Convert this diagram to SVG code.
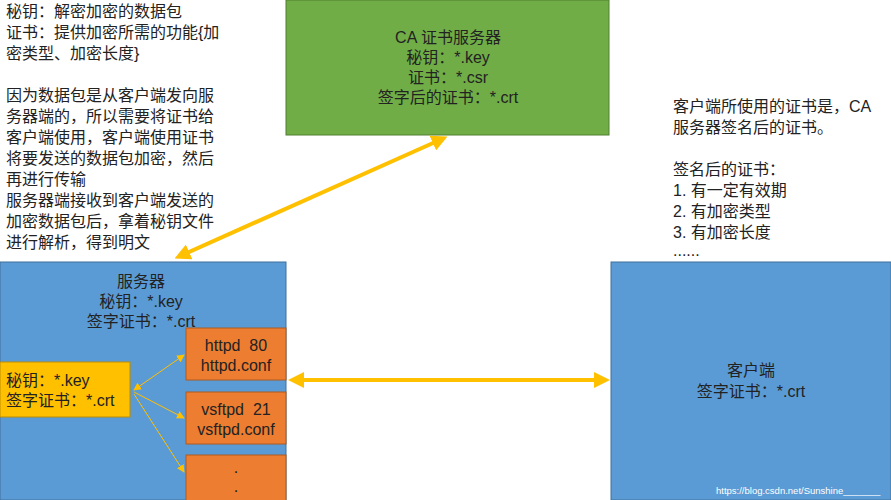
<svg xmlns="http://www.w3.org/2000/svg" width="891" height="500" viewBox="0 0 891 500">
<style>
text{font-family:"Liberation Sans","Noto Sans CJK SC",sans-serif;font-size:16px;fill:#222}
.c{text-anchor:middle}
</style>
<defs>
<marker id="big" markerWidth="4" markerHeight="4" refX="2.5" refY="2" orient="auto-start-reverse" markerUnits="strokeWidth"><path d="M0,0 L4,2 L0,4 z" fill="#FFC000"/></marker>
<marker id="sm" markerWidth="8" markerHeight="8" refX="7" refY="4" orient="auto-start-reverse" markerUnits="userSpaceOnUse"><path d="M0,0 L8,4 L0,8 z" fill="#FFC000"/></marker>
</defs>
<rect width="891" height="500" fill="#fff"/>
<g id="notes-left">
<text x="6" y="17">秘钥：解密加密的数据包</text>
<text x="6" y="38">证书：提供加密所需的功能{加</text>
<text x="6" y="59">密类型、加密长度}</text>
<text x="6" y="101">因为数据包是从客户端发向服</text>
<text x="6" y="122">务器端的，所以需要将证书给</text>
<text x="6" y="143">客户端使用，客户端使用证书</text>
<text x="6" y="164">将要发送的数据包加密，然后</text>
<text x="6" y="185">再进行传输</text>
<text x="6" y="206">服务器端接收到客户端发送的</text>
<text x="6" y="227">加密数据包后，拿着秘钥文件</text>
<text x="6" y="248">进行解析，得到明文</text>
</g>
<g id="ca"><rect x="286" y="0" width="323" height="135" fill="#70AD47" stroke="#507E32"/>
<text class="c" x="448" y="43">CA 证书服务器</text>
<text class="c" x="448" y="63">秘钥：*.key</text>
<text class="c" x="448" y="83">证书：*.csr</text>
<text class="c" x="448" y="103">签字后的证书：*.crt</text></g>
<g id="notes-right">
<text x="673" y="112">客户端所使用的证书是，CA</text>
<text x="673" y="133">服务器签名后的证书。</text>
<text x="673" y="175">签名后的证书：</text>
<text x="673" y="196">1. 有一定有效期</text>
<text x="673" y="217">2. 有加密类型</text>
<text x="673" y="238">3. 有加密长度</text>
<text x="673" y="256">......</text>
</g>
<g id="server"><rect x="0" y="262" width="286" height="238" fill="#5B9BD5" stroke="#41719C"/>
<text class="c" x="141" y="287">服务器</text>
<text class="c" x="141" y="307">秘钥：*.key</text>
<text class="c" x="141" y="327">签字证书：*.crt</text></g>
<g id="client"><rect x="611" y="262" width="280" height="238" fill="#5B9BD5" stroke="#41719C"/>
<text class="c" x="751" y="376">客户端</text>
<text class="c" x="751" y="397">签字证书：*.crt</text></g>
<g id="keybox"><rect x="0" y="362" width="130" height="55" fill="#FFC000" stroke="#BC8C00"/>
<text x="6" y="386">秘钥：*.key</text>
<text x="6" y="406">签字证书：*.crt</text></g>
<g id="httpd"><rect x="186" y="328" width="100" height="52" fill="#ED7D31" stroke="#AE5A21"/>
<text class="c" x="236" y="351" xml:space="preserve">httpd  80</text><text class="c" x="236" y="371">httpd.conf</text></g>
<g id="vsftpd"><rect x="186" y="392" width="100" height="52" fill="#ED7D31" stroke="#AE5A21"/>
<text class="c" x="236" y="415" xml:space="preserve">vsftpd  21</text><text class="c" x="236" y="435">vsftpd.conf</text></g>
<g id="more"><rect x="186" y="455" width="100" height="50" fill="#ED7D31" stroke="#AE5A21"/>
<text class="c" x="236" y="473">.</text><text class="c" x="236" y="492">.</text></g>
<g id="connectors" stroke="#FFC000" fill="none">
<line x1="180" y1="256" x2="442" y2="139" stroke-width="4" marker-start="url(#big)" marker-end="url(#big)"/>
<line x1="294" y1="380" x2="604" y2="380" stroke-width="4" marker-start="url(#big)" marker-end="url(#big)"/>
<line x1="134" y1="390" x2="184" y2="355" stroke-width="1" marker-start="url(#sm)" marker-end="url(#sm)"/>
<line x1="134" y1="392" x2="184" y2="418" stroke-width="1" marker-end="url(#sm)"/>
<line x1="134" y1="394" x2="184" y2="472" stroke-width="1" marker-end="url(#sm)"/>
</g>
<text x="716" y="494" style="font-size:9.5px;fill:#fff">https://blog.csdn.net/Sunshine_______</text>
</svg>
